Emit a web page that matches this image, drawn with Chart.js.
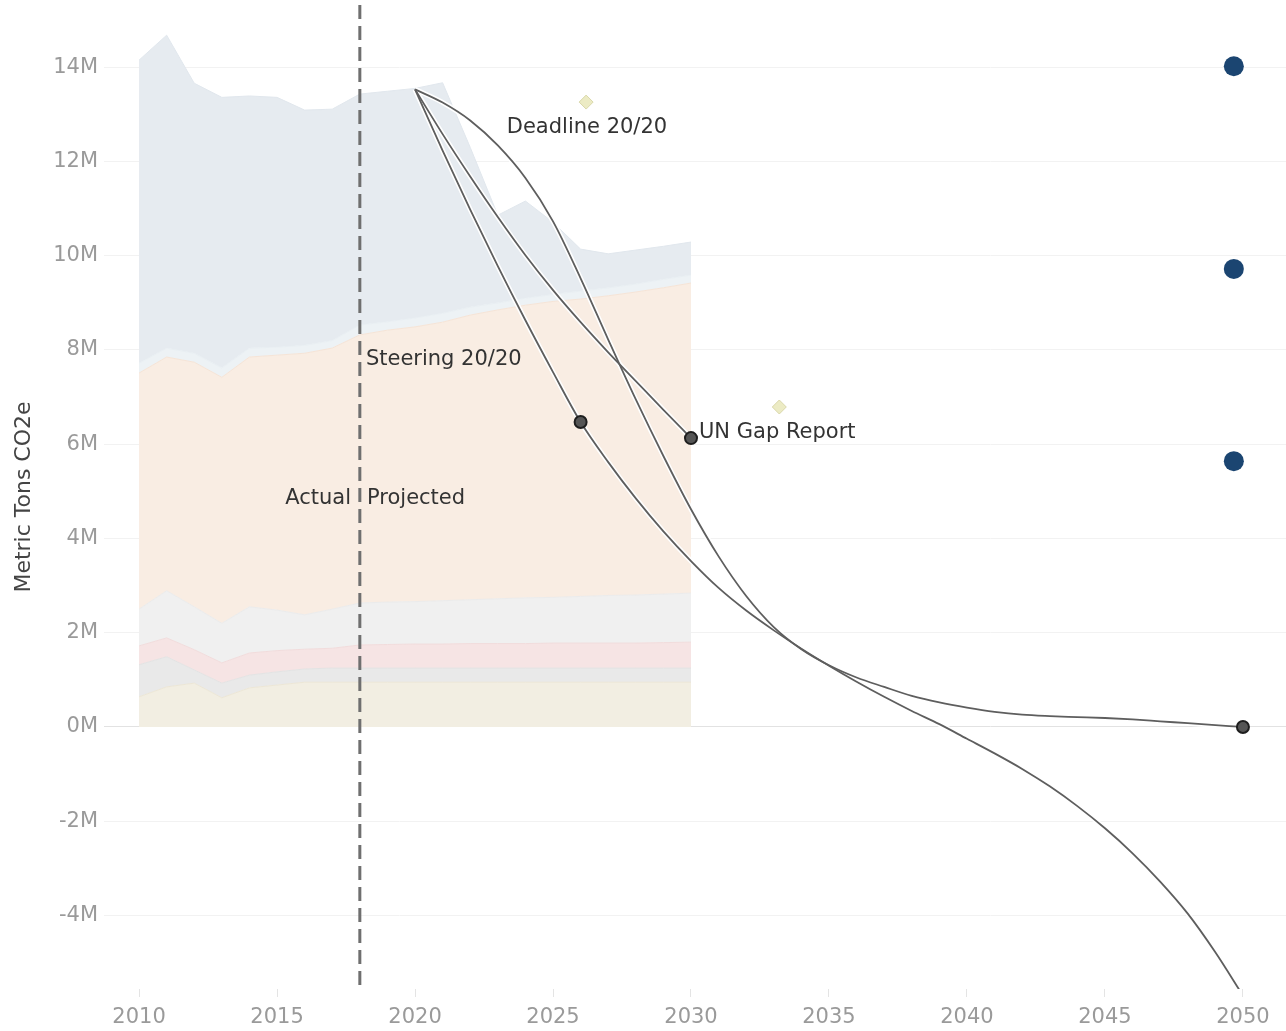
<!DOCTYPE html>
<html><head><meta charset="utf-8">
<script src="https://cdn.jsdelivr.net/npm/chart.js@4.4.1/dist/chart.umd.min.js"></script>
<style>html,body{margin:0;padding:0;background:#fff;}#wrap{width:1286px;height:1031px;}</style>
</head><body><div id="wrap"><canvas id="c" width="1286" height="1031"></canvas></div>
<script>
// ---- data (values in millions of metric tons CO2e) ----
const areaYears = [2010,2011,2012,2013,2014,2015,2016,2017,2018,2019,2020,2021,2022,2023,2024,2025,2026,2027,2028,2029,2030];
// cumulative tops of the stacked sector bands, bottom to top
const band1Top = [0.64,0.85,0.93,0.62,0.83,0.89,0.95,0.95,0.95,0.95,0.95,0.95,0.95,0.95,0.95,0.95,0.95,0.95,0.95,0.95,0.95];
const band2Top = [1.32,1.49,1.21,0.93,1.10,1.17,1.23,1.25,1.25,1.25,1.25,1.25,1.25,1.25,1.25,1.25,1.25,1.25,1.25,1.25,1.25];
const band3Top = [1.72,1.89,1.64,1.36,1.57,1.62,1.65,1.67,1.74,1.75,1.76,1.76,1.77,1.77,1.77,1.78,1.78,1.78,1.78,1.79,1.80];
const band4Top = [2.50,2.89,2.55,2.20,2.55,2.48,2.38,2.50,2.63,2.65,2.66,2.68,2.70,2.72,2.74,2.75,2.77,2.79,2.80,2.82,2.84];
const band5Top = [7.51,7.85,7.74,7.42,7.85,7.89,7.93,8.04,8.32,8.42,8.49,8.59,8.74,8.85,8.95,9.03,9.08,9.15,9.23,9.32,9.42];
const band6Top = [7.72,8.04,7.93,7.62,8.04,8.06,8.10,8.20,8.53,8.60,8.68,8.78,8.91,9.00,9.10,9.18,9.25,9.32,9.40,9.50,9.59];
const band7Top = [14.15,14.68,13.66,13.36,13.39,13.36,13.09,13.11,13.43,13.49,13.55,13.67,12.30,10.86,11.16,10.71,10.14,10.04,10.12,10.20,10.29];

const steeringYears = [2020,2021,2022,2023,2024,2025,2026,2027,2028,2029,2030,2031,2032,2033,2034,2035,2036,2037,2038,2039,2040,2041,2042,2043,2044,2045,2046,2047,2048,2049,2050];
const steering = [13.53,12.23,10.98,9.78,8.63,7.53,6.47,5.62,4.85,4.15,3.52,2.95,2.47,2.05,1.66,1.30,0.96,0.64,0.34,0.06,-0.25,-0.56,-0.89,-1.26,-1.68,-2.15,-2.68,-3.28,-3.96,-4.78,-5.70];
const deadlineYears = steeringYears;
const deadline = [13.53,13.25,12.87,12.34,11.65,10.73,9.52,8.22,6.95,5.75,4.62,3.62,2.78,2.12,1.65,1.31,1.05,0.85,0.66,0.52,0.41,0.32,0.26,0.23,0.21,0.19,0.16,0.12,0.08,0.04,0.00];
const unGapYears = [2020,2021,2022,2023,2024,2025,2026,2027,2028,2029,2030];
const unGap = [13.53,12.58,11.68,10.82,10.01,9.27,8.59,7.95,7.34,6.73,6.13];

const markerSteeringYear = 2026, markerUnYear = 2030, markerDeadlineYear = 2050;
const diamondX = [2026.2, 2033.2];
const diamondY = [13.26, 6.79];
const goalDotX = [2049.67, 2049.67, 2049.67];
const goalDotY = [14.02, 9.72, 5.64];
const dividerYear = 2018;

const xTicks = [2010,2015,2020,2025,2030,2035,2040,2045,2050];
const yTicks = [-4,-2,0,2,4,6,8,10,12,14];
const xMin = 2008.73, xMax = 2051.56, yMin = -5.56, yMax = 15.32;

const labels = [
  {text:'Deadline 20/20', x:2026.23, y:12.71, align:'center'},
  {text:'Steering 20/20', x:2018.22, y:7.79, align:'left'},
  {text:'UN Gap Report',  x:2030.29, y:6.24, align:'left'},
  {text:'Actual',         x:2017.68, y:4.84, align:'right'},
  {text:'Projected',      x:2018.26, y:4.84, align:'left'}
];

// ---- helpers ----
const pts = (xs, ys) => xs.map((x,i) => ({x, y: ys[i]}));
const valAt = (xs, ys, yr) => ys[xs.indexOf(yr)];

const bandDefs = [
  [band1Top,'#f2eee2','#ece6d6'],
  [band2Top,'#e9e9e9','#e3e3e3'],
  [band3Top,'#f6e4e4','#f1dcdc'],
  [band4Top,'#f0f0f0','#ebebeb'],
  [band5Top,'#f9ede3','#f5e4d7'],
  [band6Top,'#edf2f5','#e8eef2'],
  [band7Top,'#e6ebf0','#e1e7ed']
];
const datasets = bandDefs.map((b,i) => ({
  type:'line', data: pts(areaYears, b[0]), backgroundColor: b[1], borderColor: b[2], borderWidth: 1,
  fill: i === 0 ? 'origin' : '-1', pointRadius: 0, tension: 0, order: 20
}));

datasets.push({type:'line', data:[{x:dividerYear,y:yMax},{x:dividerYear,y:yMin}], borderColor:'#6f6f6f',
  borderWidth:3, borderDash:[14,7], pointRadius:0, fill:false, order:15});

const series = [[steeringYears, steering],[deadlineYears, deadline],[unGapYears, unGap]];
series.forEach(s => {
  datasets.push({type:'line', data: pts(s[0], s[1]), borderColor:'#ffffff', borderWidth:5, pointRadius:0,
    fill:false, cubicInterpolationMode:'monotone', order:10});
});
series.forEach(s => {
  datasets.push({type:'line', data: pts(s[0], s[1]), borderColor:'#5e5e5e', borderWidth:1.8, pointRadius:0,
    fill:false, cubicInterpolationMode:'monotone', order:9});
});
datasets.push({type:'scatter', data:[
    {x:markerSteeringYear, y:valAt(steeringYears, steering, markerSteeringYear)},
    {x:markerUnYear, y:valAt(unGapYears, unGap, markerUnYear)},
    {x:markerDeadlineYear, y:valAt(deadlineYears, deadline, markerDeadlineYear)}],
  backgroundColor:'#555555', borderColor:'#1e1e1e', borderWidth:2, pointRadius:6, order:2});
datasets.push({type:'scatter', data: pts(diamondX, diamondY), pointStyle:'rectRot',
  backgroundColor:'#ecebc4', borderColor:'#d9d7aa', borderWidth:1, pointRadius:7, order:3});
datasets.push({type:'scatter', data: pts(goalDotX, goalDotY), backgroundColor:'#1b4571', borderColor:'#1b4571',
  borderWidth:0, pointRadius:10, order:1});

const textPlugin = {
  id:'annotText',
  afterDatasetsDraw(chart){
    const {ctx, scales:{x, y}} = chart;
    ctx.save();
    ctx.font = '21px "DejaVu Sans"';
    ctx.fillStyle = '#333333';
    ctx.textBaseline = 'middle';
    labels.forEach(l => { ctx.textAlign = l.align; ctx.fillText(l.text, x.getPixelForValue(l.x), y.getPixelForValue(l.y)); });
    ctx.restore();
  }
};

new Chart(document.getElementById('c'), {
  data:{datasets},
  plugins:[textPlugin],
  options:{
    responsive:false, animation:false, devicePixelRatio:1,
    layout:{autoPadding:false, padding:{top:5, right:0, left:0, bottom:0}},
    plugins:{legend:{display:false}, tooltip:{enabled:false}},
    scales:{
      x:{type:'linear', min:xMin, max:xMax,
        afterBuildTicks: s => { s.ticks = xTicks.map(v => ({value:v})); },
        afterFit: s => { s.height = 42; s.paddingLeft = 0; s.paddingRight = 0; },
        grid:{drawOnChartArea:false, color:'#e4e4e4', tickColor:'#e4e4e4', tickLength:8},
        border:{display:false},
        ticks:{padding:8, maxRotation:0, autoSkip:false, color:'#9a9a9a', font:{family:'DejaVu Sans', size:21}, callback: v => String(v)}
      },
      y:{type:'linear', min:yMin, max:yMax,
        afterBuildTicks: s => { s.ticks = yTicks.map(v => ({value:v})); },
        afterFit: s => { s.width = 104; s.paddingTop = 0; s.paddingBottom = 0; },
        grid:{drawTicks:false, color: c => c.tick && c.tick.value === 0 ? '#e2e2e2' : '#f2f2f2', lineWidth:1},
        border:{display:false},
        title:{display:true, text:'Metric Tons CO2e', color:'#444444', font:{family:'DejaVu Sans', size:22}, padding:{top:11, bottom:0}},
        ticks:{padding:6, color:'#9a9a9a', font:{family:'DejaVu Sans', size:21}, callback: v => v + 'M'}
      }
    }
  }
});
</script></body></html>
